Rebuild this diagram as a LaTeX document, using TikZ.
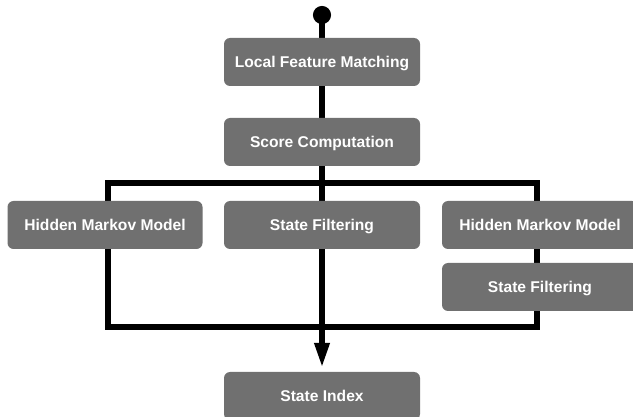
\documentclass[tikz,border=0pt]{standalone}
\usepackage{fontspec}
\setmainfont{Liberation Sans}
\usetikzlibrary{arrows.meta}
\definecolor{boxgray}{RGB}{112,112,112}
\begin{document}
\begin{tikzpicture}[x=1pt,y=-1pt,
  stepbox/.style={fill=boxgray, rounded corners=6pt, minimum width=196pt, minimum height=48pt,
    inner sep=0pt, text height=11.2pt, text depth=0pt, text=white, font=\bfseries\fontsize{15.6}{18}\selectfont},
  flow/.style={line width=6pt}]
\useasboundingbox (0,0) rectangle (633,417);
\fill[white] (0,0) rectangle (633,417);
\coordinate (top) at (322,6);
\coordinate (tl) at (108,183);
\coordinate (br) at (537,327);
\coordinate (tipend) at (322,368);
% lines behind
\draw[flow] (tl) rectangle (br);
\draw[flow, {Circle[length=18pt,width=18pt]}-{Triangle[length=25pt,width=14pt]}] (top) -- (tipend);
% boxes
\node[stepbox] (lfm) at (322,62) {Local Feature Matching};
\node[stepbox] (sc) at (322,142) {Score Computation};
\node[stepbox, minimum width=195pt] (hmm1) at (105,225) {Hidden Markov Model};
\node[stepbox] (sf1) at (322,225) {State Filtering};
\node[stepbox] (hmm2) at (540,225) {Hidden Markov Model};
\node[stepbox] (sf2) at (540,287) {State Filtering};
\node[stepbox] (si) at (322,396) {State Index};
\end{tikzpicture}
\end{document}
